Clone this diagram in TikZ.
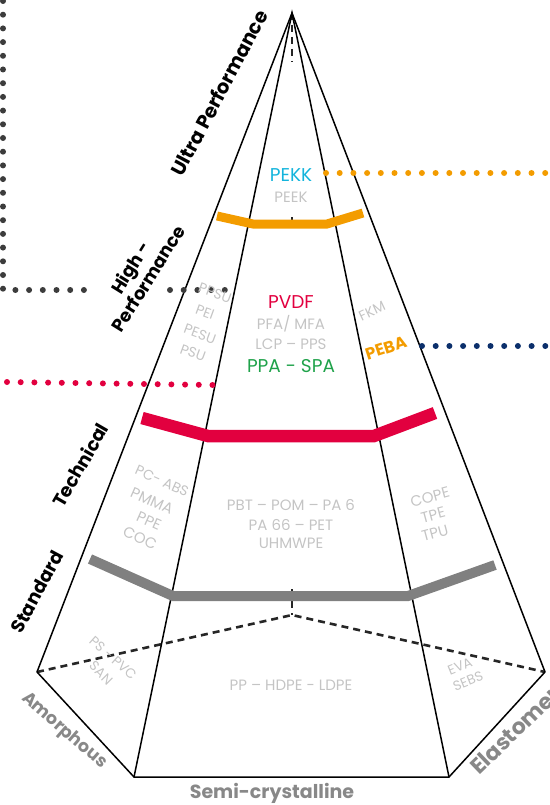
\documentclass[tikz,border=0pt]{standalone}
\usepackage{fontspec}
\setmainfont{Poppins}
\definecolor{cOrange}{HTML}{F39C00}
\definecolor{cRed}{HTML}{E2003F}
\definecolor{cBar}{HTML}{808080}
\definecolor{cGreen}{HTML}{1FA24A}
\definecolor{cCyan}{HTML}{14B4DC}
\definecolor{cNavy}{HTML}{0B2F6B}
\definecolor{cDots}{HTML}{3C3C3C}
\definecolor{cText}{HTML}{C4C4C4}
\definecolor{cLabel}{HTML}{888888}
\begin{document}
\begin{tikzpicture}[x=1pt,y=-1pt,
  edge/.style={line width=1.5pt, black, line join=miter},
  hidden/.style={line width=2.6pt, black!85, dash pattern=on 7pt off 5pt},
  bar/.style={line width=#1, line join=miter},
  dots/.style={line width=6pt, line cap=round, dash pattern=on 0pt off 13.7pt},
  lvl/.style={font=\bfseries\fontsize{18.5}{20}\selectfont, align=center, inner sep=0pt},
  fam/.style={font=\bfseries\fontsize{18}{20}\selectfont, text=cLabel, inner sep=0pt},
  poly/.style={font=\fontsize{15}{17}\selectfont, text=cText, inner sep=0pt},
  key/.style={font=\fontsize{18.5}{20}\selectfont, inner sep=0pt}
]
\useasboundingbox (0,0) rectangle (549,805);

% base and apex
\coordinate (apex) at (292,13);
\coordinate (L) at (37,672);
\coordinate (FL) at (134,777);
\coordinate (FR) at (449,777);
\coordinate (R) at (545,672);
\coordinate (B) at (292,615);

% hidden edges
\draw[hidden] (L) -- (B) -- (R);
\draw[hidden] (apex) -- (292,62);
\draw[hidden] (292,217) -- (292,226);
\draw[hidden] (292,589) -- (B);

% visible edges
\draw[edge] (L) -- (apex) -- (R);
\draw[edge] (FL) -- (apex) -- (FR);
\draw[edge] (L) -- (FL) -- (FR) -- (R);

% level bars
\draw[bar=9pt, cOrange] (217,216) -- (253,224) -- (327,224) -- (363,213);
\draw[bar=12.5pt, cRed] (142,418) -- (208,436) -- (374,436) -- (435,413);
\draw[bar=10pt, cBar] (90,559) -- (173,596) -- (408,596) -- (495,565);

% dotted leaders
\draw[dots, cDots] (3,1) -- (3,290) -- (88,290);
\draw[dots, cDots] (170,290) -- (238,290);
\draw[dots, cOrange] (326,173) -- (549,173);
\draw[dots, cNavy] (422,346) -- (549,346);
\draw[dots, cRed] (7,382) -- (213,385);

% level labels
\node[lvl, rotate=62, font=\bfseries\fontsize{19.5}{21}\selectfont] (ultra) at (219,93) {Ultra Performance};
\node[lvl, rotate=58, font=\bfseries\fontsize{18}{21}\selectfont] (high) at (139,273) {High -\\Performance};
\node[lvl, rotate=60] (tech) at (80,465) {Technical};
\node[lvl, rotate=62] (std) at (37,592) {Standard};

% family labels
\node[fam, rotate=-41, font=\bfseries\fontsize{17.5}{20}\selectfont] (amor) at (64,731) {Amorphous};
\node[fam, font=\bfseries\fontsize{19}{21}\selectfont] (semi) at (272,793) {Semi-crystalline};
\node[fam, rotate=44, anchor=base west, font=\bfseries\fontsize{22}{24}\selectfont] (elas) at (479,776) {Elastomers};

% ultra performance
\node[key, text=cCyan] (pekk) at (291,175) {PEKK};
\node[poly] (peek) at (291,197) {PEEK};

% high performance
\node[key, text=cRed] (pvdf) at (291,302) {PVDF};
\node[poly] (pfa) at (291,324) {PFA/ MFA};
\node[poly] (lcp) at (291,344) {LCP – PPS};
\node[key, text=cGreen] (ppa) at (291,366) {PPA - SPA};
\node[poly, rotate=-20, font=\fontsize{14}{16}\selectfont] (ppsu) at (215,293) {PPSU};
\node[poly, rotate=-20, font=\fontsize{14}{16}\selectfont] (pei) at (205,312) {PEI};
\node[poly, rotate=-20, font=\fontsize{14}{16}\selectfont] (pesu) at (200,334) {PESU};
\node[poly, rotate=-20, font=\fontsize{14}{16}\selectfont] (psu) at (193,353) {PSU};
\node[poly, rotate=25, font=\fontsize{14}{16}\selectfont] (fkm) at (372,311) {FKM};
\node[key, text=cOrange, font=\bfseries\fontsize{16.5}{18}\selectfont, rotate=18] (peba) at (386,348) {PEBA};

% technical
\node[poly, rotate=-24, font=\fontsize{14}{16}\selectfont] (pcabs) at (162,481) {PC- ABS};
\node[poly, rotate=-24] (pmma) at (152,501) {PMMA};
\node[poly, rotate=-24] (ppe) at (149,521) {PPE};
\node[poly, rotate=-24] (coc) at (140,538) {COC};
\node[poly] (pbt) at (291,505) {PBT – POM – PA 6};
\node[poly] (pa66) at (291,525) {PA 66 – PET};
\node[poly] (uhmw) at (291,543) {UHMWPE};
\node[poly, rotate=15] (cope) at (430,497) {COPE};
\node[poly, rotate=15] (tpe) at (433,515) {TPE};
\node[poly, rotate=15] (tpu) at (435,533) {TPU};

% standard
\node[poly, rotate=-42, font=\fontsize{13.5}{15}\selectfont] (pspvc) at (113,658) {PS - PVC};
\node[poly, rotate=-45, font=\fontsize{13.5}{15}\selectfont] (san) at (101,673) {SAN};
\node[poly] (pp) at (291,685) {PP – HDPE - LDPE};
\node[poly, rotate=22, font=\fontsize{13.5}{15}\selectfont] (eva) at (460,666) {EVA};
\node[poly, rotate=22, font=\fontsize{13.5}{15}\selectfont] (sebs) at (468,681) {SEBS};
\end{tikzpicture}
\end{document}
